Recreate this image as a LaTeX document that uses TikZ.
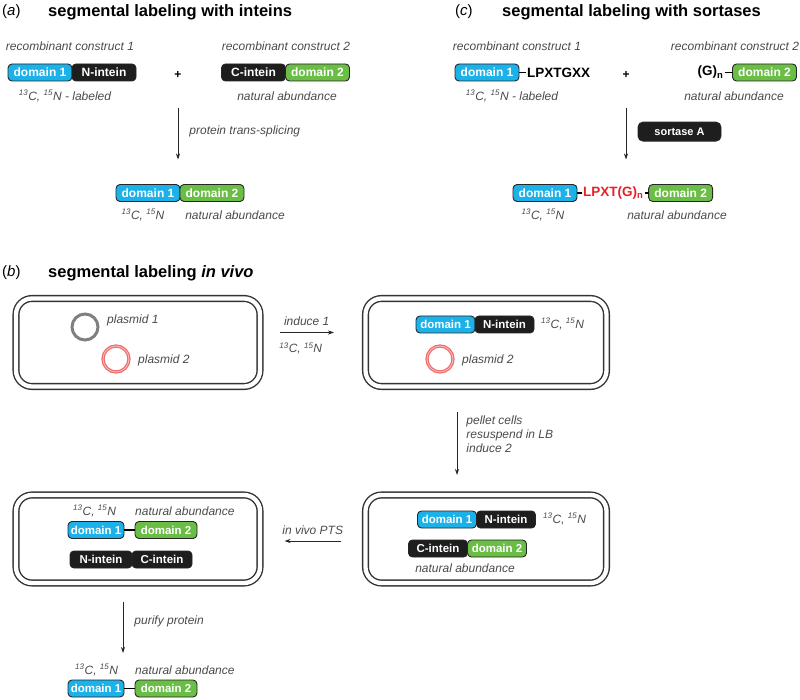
\documentclass[tikz,border=0pt]{standalone}
\usepackage{fontspec}
\setmainfont{Liberation Sans}
\usepackage{xcolor}
\usepackage{tikz}
\usetikzlibrary{positioning}
\usetikzlibrary{arrows.meta}
\definecolor{domblue}{HTML}{1DB1E9}
\definecolor{domgreen}{HTML}{6ABD45}
\definecolor{inteinblack}{HTML}{1E1E1E}
\definecolor{labelgray}{HTML}{4A4A4A}
\definecolor{cellgray}{HTML}{333333}
\definecolor{plasgray}{HTML}{7F7F7F}
\definecolor{plasred}{HTML}{EE6B6B}
\definecolor{linkred}{HTML}{E4202A}
\newcommand{\labCN}{\textsuperscript{13}C, \textsuperscript{15}N}
\tikzstyle{dom} = [draw=black!85, line width=0.9pt, rounded corners=4pt,
minimum width=64pt, minimum height=17pt, inner sep=0pt, outer sep=0pt,
text=white, font=\fontsize{12}{12}\selectfont\bfseries]
\tikzstyle{smalldom} = [minimum width=59pt, font=\fontsize{11.5}{12}\selectfont\bfseries]
\tikzstyle{domone} = [dom, fill=domblue]
\tikzstyle{domtwo} = [dom, fill=domgreen]
\tikzstyle{intein} = [dom, fill=inteinblack]
\tikzstyle{lbl} = [text=labelgray, inner sep=0pt, font=\fontsize{12}{14}\selectfont\itshape]
\tikzstyle{paneltitle} = [inner sep=0pt, anchor=west, font=\fontsize{16.5}{18}\selectfont\bfseries]
\tikzstyle{panelletter} = [inner sep=0pt, anchor=west, font=\fontsize{15}{18}\selectfont]
\tikzstyle{cellwall} = [draw=cellgray, line width=1.4pt, double=white, double distance=4.3pt,
rounded corners=16pt, minimum width=244pt, minimum height=88pt, outer sep=0pt]
\tikzstyle{plasmid} = [circle, minimum size=26pt, inner sep=0pt]
\tikzstyle{arr} = [-{Stealth[length=6pt,width=4pt]}, line width=0.9pt, draw=black!85]
\tikzstyle{link} = [line width=1.4pt, draw=black]
\tikzstyle{seq} = [inner sep=1pt, font=\fontsize{13.5}{14}\selectfont\bfseries]
\tikzstyle{plus} = [inner sep=0pt, font=\fontsize{12}{12}\selectfont\bfseries]

\begin{document}
\begin{tikzpicture}[x=1pt, y=-1pt]
    \useasboundingbox (0,0) rectangle (800,700);

    % (a) inteins
    \node[panelletter] (lettera) at (2,12) {(\textit{a})};
    \node[paneltitle] (titlea) at (48,12) {segmental labeling with inteins};
    \node[lbl] (arec1) at (70,46) {recombinant construct 1};
    \node[lbl] (arec2) at (286,46) {recombinant construct 2};
    \node[domone] (ad1) at (40,72.5) {domain 1};
    \node[intein, right=0pt of ad1] (ani) {N-intein};
    \node[plus] (aplus) at (178,75) {+};
    \node[intein] (aci) at (253.5,72.5) {C-intein};
    \node[domtwo, right=0pt of aci] (ad2) {domain 2};
    \node[lbl] (alab1) at (65,96) {\labCN{} - labeled};
    \node[lbl] (alab2) at (287,96) {natural abundance};
    \node[domone] (apd1) at (148,193) {domain 1};
    \node[domtwo, right=0pt of apd1] (apd2) {domain 2};
    \node[lbl] (aplab1) at (143,215) {\labCN};
    \node[lbl] (aplab2) at (235,215) {natural abundance};
    \draw[arr, shorten <=29pt, shorten >=25pt] (aplus) -- (aplus |- apd1.north)
        node[lbl, midway, right=11pt] {protein trans-splicing};

    % (c) sortases
    \node[panelletter] (letterc) at (455,12) {(\textit{c})};
    \node[paneltitle] (titlec) at (502,12) {segmental labeling with sortases};
    \node[lbl] (crec1) at (517,46) {recombinant construct 1};
    \node[lbl] (crec2) at (735,46) {recombinant construct 2};
    \node[domone] (cd1) at (487,72.5) {domain 1};
    \node[seq, right=7pt of cd1] (clpx) {LPXTGXX};
    \draw[link] (cd1) -- (clpx);
    \node[plus] (cplus) at (626,75) {+};
    \node[domtwo] (cd2) at (764.5,72.5) {domain 2};
    \node[seq, left=8pt of cd2] (cgly) {(G)\textsubscript{n}};
    \draw[link] (cgly) -- (cd2);
    \node[lbl] (clab1) at (512,96) {\labCN{} - labeled};
    \node[lbl] (clab2) at (734,96) {natural abundance};
    \node[domone] (cpd1) at (545,193) {domain 1};
    \node[seq, text=linkred, right=5pt of cpd1] (cplpx) {LPXT(G)\textsubscript{n}};
    \node[domtwo, right=4pt of cplpx] (cpd2) {domain 2};
    \draw[link] (cpd1) -- (cplpx);
    \draw[link] (cplpx) -- (cpd2);
    \node[lbl] (cplab1) at (543,215) {\labCN};
    \node[lbl] (cplab2) at (677,215) {natural abundance};
    \draw[arr, shorten <=29pt, shorten >=25pt] (cplus) -- (cplus |- cpd1.north)
        node[intein, midway, right=12pt, minimum width=83pt, minimum height=19pt,
        rounded corners=5pt, font=\fontsize{11}{12}\selectfont\bfseries] (sortase) {sortase A};

    % (b) in vivo
    \node[panelletter] (letterb) at (2,273) {(\textit{b})};
    \node[paneltitle] (titleb) at (48,273) {segmental labeling \textit{in vivo}};
    \node[cellwall] (cellA) at (138,342.5) {};
    \node[cellwall, minimum width=241pt] (cellB) at (486,342.5) {};
    \node[cellwall, minimum width=241pt] (cellC) at (486,539) {};
    \node[cellwall] (cellD) at (138,539) {};

    % cell A
    \node[plasmid, draw=plasgray, line width=3pt] (ap1) at (85,327) {};
    \node[lbl, anchor=west] (ap1lab) at (107,320) {plasmid 1};
    \node[plasmid, draw=plasred, line width=1.2pt, double=plasred!45, double distance=0.9pt] (ap2) at (116,359) {};
    \node[lbl, anchor=west] (ap2lab) at (138,360) {plasmid 2};

    % cell B
    \node[domone, smalldom] (bd1) at (445.5,324.5) {domain 1};
    \node[intein, smalldom, right=0pt of bd1] (bni) {N-intein};
    \node[lbl, anchor=west] (blab) at (541,324) {\labCN};
    \node[plasmid, draw=plasred, line width=1.2pt, double=plasred!45, double distance=0.9pt] (bp2) at (440,359) {};
    \node[lbl, anchor=west] (bp2lab) at (462,360) {plasmid 2};

    % cell C
    \node[domone, smalldom] (xd1) at (447,519.5) {domain 1};
    \node[intein, smalldom, right=0pt of xd1] (xni) {N-intein};
    \node[lbl, anchor=west] (xlab1) at (543,519) {\labCN};
    \node[intein, smalldom] (xci) at (438,548.5) {C-intein};
    \node[domtwo, smalldom, right=0pt of xci] (xd2) {domain 2};
    \node[lbl] (xlab2) at (465,568) {natural abundance};

    % cell D
    \node[lbl, anchor=west] (slab1) at (73,511) {\labCN};
    \node[lbl, anchor=west] (slab2) at (135,511) {natural abundance};
    \node[domone, smalldom, minimum width=56pt] (sd1) at (96,530) {domain 1};
    \node[domtwo, smalldom, minimum width=62pt] (sd2) at (166,530) {domain 2};
    \draw[link] (sd1) -- (sd2);
    \node[intein, smalldom, minimum width=62pt] (sni) at (101,559.5) {N-intein};
    \node[intein, smalldom, minimum width=60pt, right=0pt of sni] (sci) {C-intein};

    % purified product
    \node[lbl, anchor=west] (flab1) at (75,670) {\labCN};
    \node[lbl, anchor=west] (flab2) at (135,670) {natural abundance};
    \node[domone, smalldom, minimum width=56pt] (fd1) at (96,688.5) {domain 1};
    \node[domtwo, smalldom, minimum width=62pt] (fd2) at (166,688.5) {domain 2};
    \draw[link] (fd1) -- (fd2);
    \coordinate (purified) at (123,653);

    % steps
    \draw[arr, shorten <=19.5pt, shorten >=31.5pt] ([yshift=10pt]cellA.east) -- ([yshift=10pt]cellB.west)
        node[lbl, midway, above=6pt, xshift=-6pt] {induce 1}
        node[lbl, midway, below=10pt, xshift=-12pt] {\labCN};
    \draw[arr, shorten <=25.5pt, shorten >=20pt] ([xshift=-29pt]cellB.south) -- ([xshift=-29pt]cellC.north)
        node[lbl, pos=0.44, right=9pt, align=left] {pellet cells\\resuspend in LB\\induce 2};
    \draw[arr, shorten <=24.5pt, shorten >=24.5pt] ([yshift=-2pt]cellC.west) -- ([yshift=-2pt]cellD.east)
        node[lbl, midway, above=6pt] {in vivo PTS};
    \draw[arr, shorten <=19pt] ([xshift=-15pt]cellD.south) -- (purified)
        node[lbl, pos=0.55, right=11pt] {purify protein};
\end{tikzpicture}
\end{document}
